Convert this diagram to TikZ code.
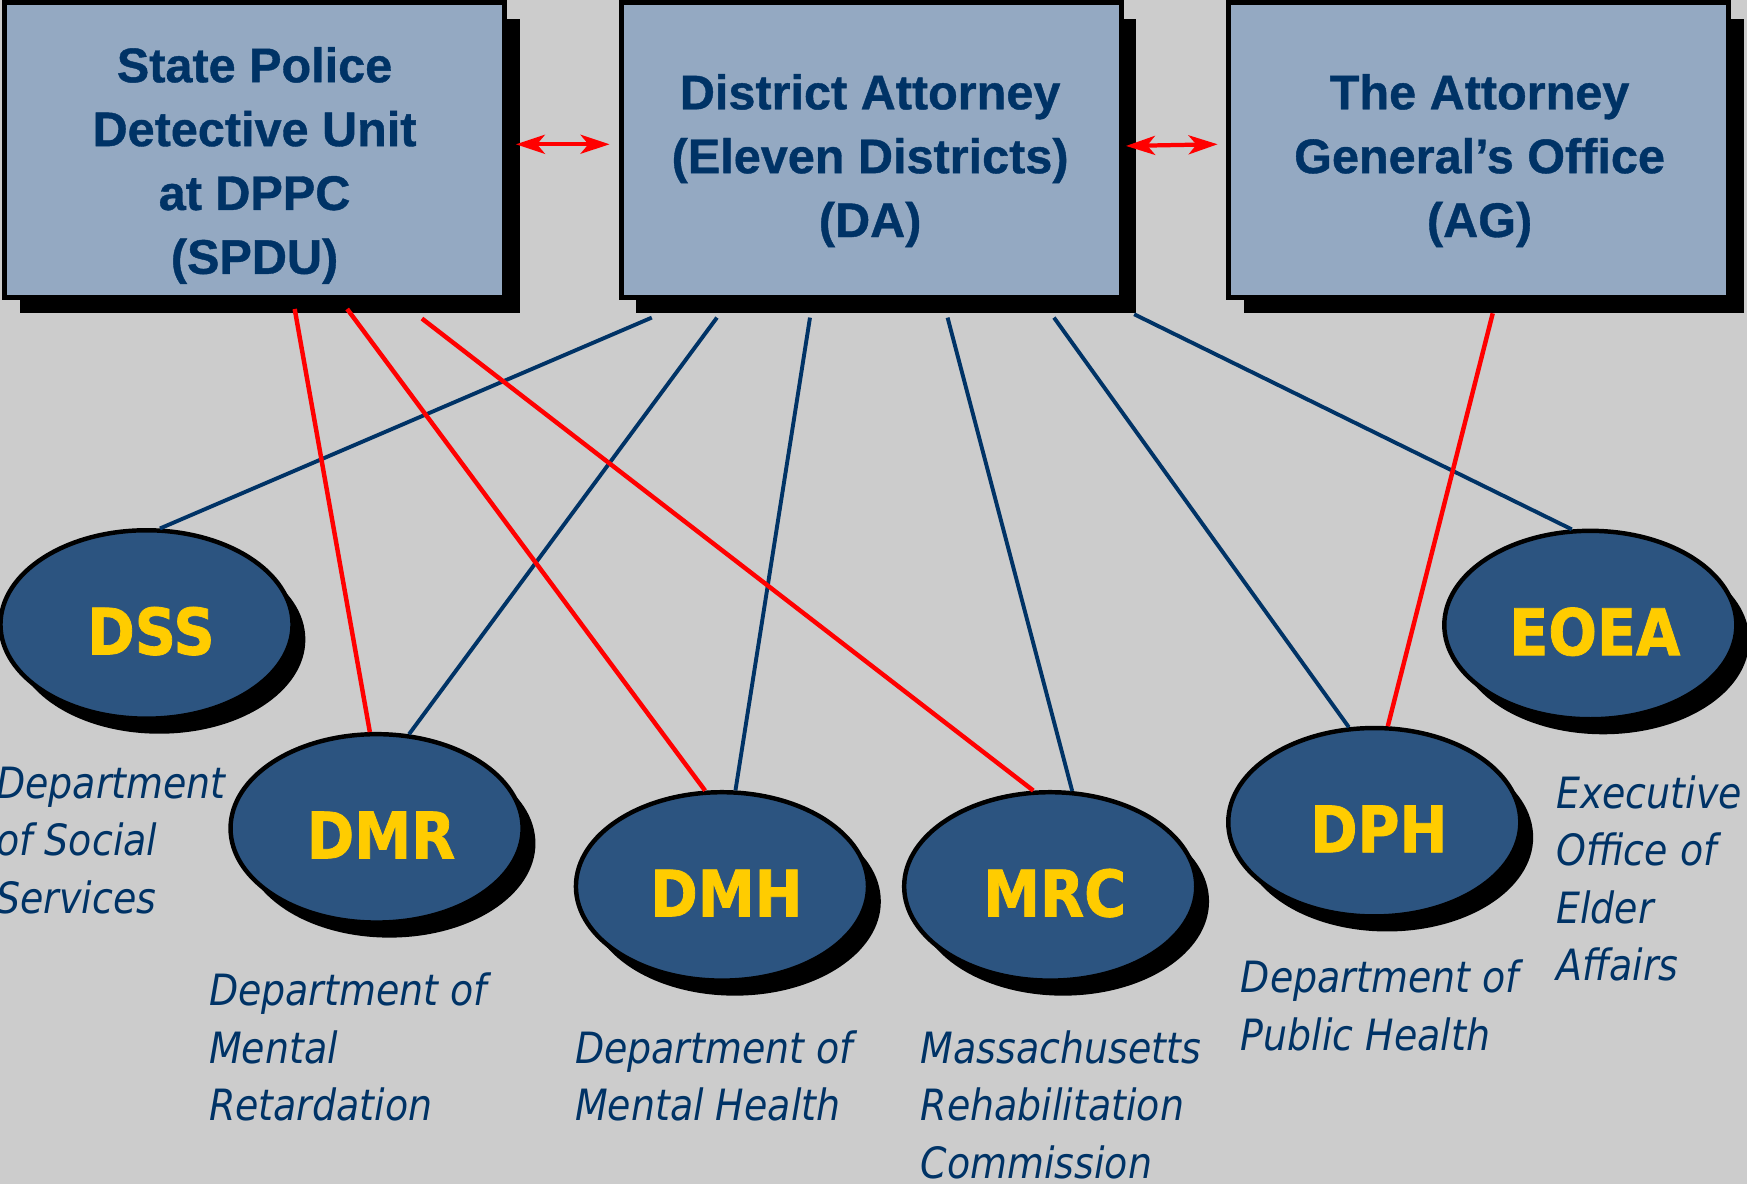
\documentclass[tikz,border=0pt]{standalone}
\usepackage{fontspec}
\usetikzlibrary{shapes.geometric,shadows,arrows.meta,calc}
\newfontfamily\boxfont[FakeBold=0.8]{Liberation Sans}
\newfontfamily\lblfont[FakeStretch=0.89,FakeBold=1.2]{DejaVu Sans}
\newfontfamily\tahfont[FakeStretch=0.88]{DejaVu Sans}
\definecolor{bg}{HTML}{CCCCCC}
\definecolor{boxfill}{HTML}{94A9C2}
\definecolor{ellfill}{HTML}{2C5480}
\definecolor{navy}{HTML}{003366}
\definecolor{gold}{HTML}{FFCC00}
\definecolor{redline}{HTML}{FF0000}
\tikzset{
 agency/.style={rectangle, draw=black, line width=0.045cm, fill=boxfill,
   minimum width=4.485cm, minimum height=2.645cm, inner sep=0pt,
   drop shadow={shadow xshift=0.135cm, shadow yshift=-0.145cm, fill=black, opacity=1}},
 boxtext/.style={align=center, inner sep=0pt, anchor=north, text=navy,
   font=\boxfont\bfseries\fontsize{12.4}{16.3}\selectfont},
 dept/.style={ellipse, draw=black, line width=0.04cm, fill=ellfill,
   minimum width=2.62cm, minimum height=1.69cm, inner sep=0pt, text=gold,
   font=\lblfont\bfseries\fontsize{16.4}{18}\selectfont,
   text height=0.54cm, text depth=0pt,
   execute at begin node={\hspace*{0.08cm}},
   drop shadow={shadow xshift=0.115cm, shadow yshift=-0.135cm, fill=black, opacity=1}},
 desc/.style={align=left, anchor=north west, inner sep=0pt, text=navy,
   font=\tahfont\itshape\fontsize{11}{14.65}\selectfont},
 navyline/.style={draw=navy, line width=0.035cm},
 redlink/.style={draw=redline, line width=0.04cm},
 redarrow/.style={draw=redline, line width=0.038cm,
   {Stealth[length=0.26cm,width=0.17cm,inset=0.07cm]}-{Stealth[length=0.26cm,width=0.17cm,inset=0.07cm]}}
}
\begin{document}
\begin{tikzpicture}[x=0.01cm,y=-0.01cm]
\path[fill=bg] (0,0) rectangle (1568,1062.7);
\useasboundingbox (0,0) rectangle (1568,1062.7);

% agencies
\node[agency] (spdu) at (228.5,134.5) {};
\node[agency] (da) at (782,134.5) {};
\node[agency] (ag) at (1327,134.5) {};
\node[boxtext] (spdut) at (228.5,41.5) {State Police\\Detective Unit\\at DPPC\\(SPDU)};
\node[boxtext] (dat) at (781,65.8) {District Attorney\\(Eleven Districts)\\(DA)};
\node[boxtext] (agt) at (1328,65.8) {The Attorney\\General’s Office\\(AG)};

% departments
\node[dept] (dss) at (131.5,560.5) {DSS};
\node[dept] (dmr) at (338,743.5) {DMR};
\node[dept] (dmh) at (648,795.6) {DMH};
\node[dept] (mrc) at (942.6,795.6) {MRC};
\node[dept] (dph) at (1233.5,738) {DPH};
\node[dept] (eoea) at (1427.4,561) {EOEA};

% descriptions
\node[desc] (dssd) at (-4,687.8) {Department\\of Social\\Services};
\node[desc] (dmrd) at (187,872.6) {Department of\\Mental\\Retardation};
\node[desc] (dmhd) at (515.5,924.4) {Department of\\Mental Health};
\node[desc] (mrcd) at (825.7,924.4) {Massachusetts\\Rehabilitation\\Commission};
\node[desc] (dphd) at (1113,861.1) {Department of\\Public Health};
\node[desc] (eoead) at (1396,695.6) {Executive\\Office of\\Elder\\Affairs};

% connector start points
\coordinate (da1) at ($(da.south)+(-197,16)$);
\coordinate (da2) at ($(da.south)+(-138.5,16)$);
\coordinate (da3) at ($(da.south)+(-55,16)$);
\coordinate (da4) at ($(da.south)+(68.5,16)$);
\coordinate (da5) at ($(da.south)+(164,16)$);
\coordinate (da6) at ($(da.south)+(236,13)$);
\coordinate (sp1) at ($(spdu.south)+(36,8.25)$);
\coordinate (sp2) at ($(spdu.south)+(83.1,8.25)$);
\coordinate (sp3) at ($(spdu.south)+(150.2,16.85)$);
\coordinate (ag1) at ($(ag.south)+(12.8,12.15)$);

% DA links
\draw[navyline] (da1) -- (dss.82.6);
\draw[navyline] (da2) -- (dmr.71);
\draw[navyline] (da3) -- (dmh.82);
\draw[navyline] (da4) -- (mrc.77.4);
\draw[navyline] (da5) -- (dph.105);
\draw[navyline] (da6) -- (eoea.101);

% SPDU and AG links
\draw[redlink] (sp1) -- (dmr.94);
\draw[redlink] (sp2) -- (dmh.100.5);
\draw[redlink] (sp3) -- (mrc.100.7);
\draw[redlink] (ag1) -- (dph.82.5);

% two-way arrows
\draw[redarrow] ($(spdu.east)+(7.85,-5)$) -- ($(da.west)+(-8.25,-5)$);
\draw[redarrow] ($(da.east)+(2,-3.5)$) -- ($(ag.west)+(-7.5,-5)$);
\end{tikzpicture}
\end{document}
